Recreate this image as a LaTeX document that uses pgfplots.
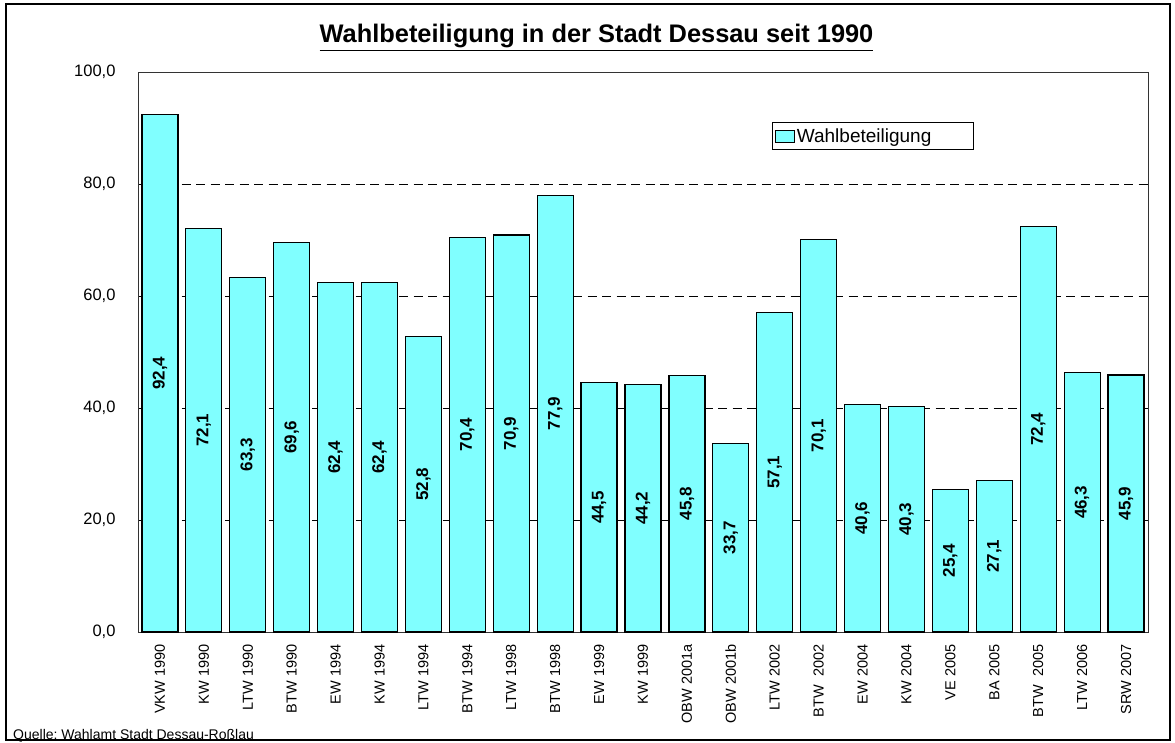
\documentclass[border=0pt]{standalone}
\usepackage{fontspec}
\setmainfont{Liberation Sans}
\usepackage{pgfplots}
\pgfplotsset{compat=1.18}
\usepackage{pgfplotstable}
\definecolor{barcyan}{RGB}{128,255,255}
\frenchspacing

\pgfplotstableread{
x y
0 92.4
1 72.1
2 63.3
3 69.6
4 62.4
5 62.4
6 52.8
7 70.4
8 70.9
9 77.9
10 44.5
11 44.2
12 45.8
13 33.7
14 57.1
15 70.1
16 40.6
17 40.3
18 25.4
19 27.1
20 72.4
21 46.3
22 45.9
}\datatable

\begin{document}
\begin{tikzpicture}[x=1pt,y=1pt]
\useasboundingbox (0,0) rectangle (1175,742);
\fill[white] (0,0) rectangle (1175,742);
\draw[line width=2.5pt] (6,2) rectangle (1170,738);
\node[anchor=base, font=\fontsize{25.4}{29}\selectfont\bfseries, inner sep=0pt] at (596.5,699) {\underline{Wahlbeteiligung in der Stadt Dessau seit 1990}};
\begin{axis}[
  at={(138pt,110pt)}, anchor=south west,
  scale only axis, width=1010pt, height=560pt,
  xmin=-0.5, xmax=22.5, ymin=0, ymax=100,
  xtick={0,...,22},
  xticklabels={VKW 1990, KW 1990, LTW 1990, BTW 1990, EW 1994, KW 1994, LTW 1994, BTW 1994, LTW 1998, BTW 1998, EW 1999, KW 1999, OBW 2001a, OBW 2001b, LTW 2002, BTW~~2002, EW 2004, KW 2004, VE 2005, BA 2005, BTW~~2005, LTW 2006, SRW 2007},
  xticklabel style={rotate=90, anchor=east, font=\fontsize{14.5}{16}\selectfont},
  xticklabel shift=9pt,
  xtick style={draw=none},
  ytick={0,20,...,100},
  ytick pos=left,
  tick align=inside,
  major tick length=4pt,
  ytick style={black, line width=0.8pt},
  yticklabel style={font=\fontsize{16.5}{18}\selectfont, xshift=-19pt},
  ymajorgrids,
  grid style={black, line width=0.9pt, dash pattern=on 9pt off 5.5pt},
  axis line style={black!80, line width=0.9pt},
  /pgf/number format/use comma,
  /pgf/number format/fixed,
  /pgf/number format/fixed zerofill,
  /pgf/number format/precision=1,
  /pgf/number format/assume math mode=true,
  legend style={at={(0.628,0.911)}, anchor=north west, draw=black, line width=1.2pt,
    font=\fontsize{19}{21}\selectfont, inner xsep=2pt, inner ysep=4pt, row sep=0pt},
]
\addplot[ybar, bar width=36pt, fill=barcyan, draw=black, line width=1.2pt,
  legend image code/.code={\draw[fill=barcyan,draw=black,line width=1pt] (0pt,-6pt) rectangle (19pt,6pt);}]
  table[x=x, y=y] {\datatable};
\addlegendentry{Wahlbeteiligung\rule{38pt}{0pt}}
\addplot[forget plot, draw=none, mark=none, nodes near coords, point meta=explicit,
  nodes near coords style={rotate=90, anchor=center, text=black, font=\fontsize{17}{19}\selectfont\bfseries}]
  table[x=x, y expr=\thisrow{y}/2, meta=y] {\datatable};
\end{axis}
\node[anchor=base west, font=\fontsize{14}{16}\selectfont, inner sep=0pt] at (13,3) {Quelle: Wahlamt Stadt Dessau-Roßlau};
\end{tikzpicture}
\end{document}
